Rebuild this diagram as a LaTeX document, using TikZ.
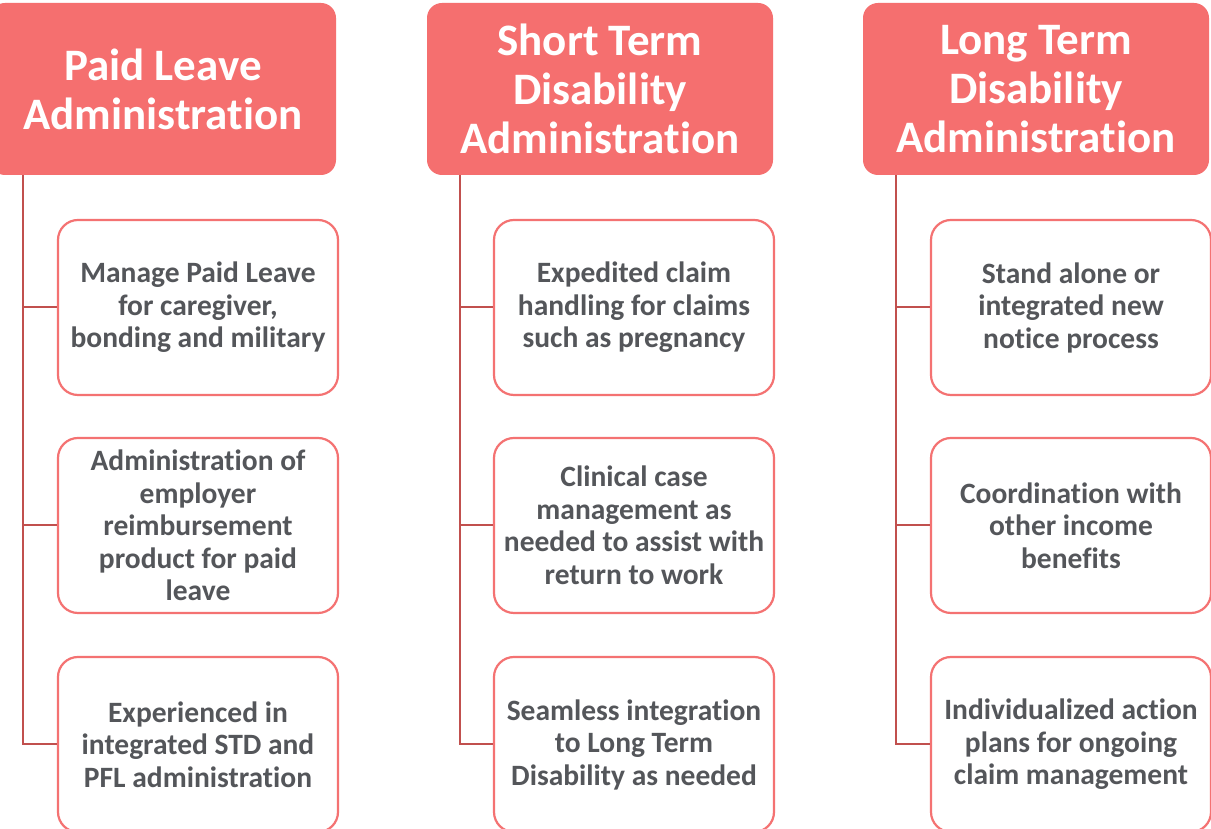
\documentclass[tikz,border=0pt]{standalone}
\usepackage{fontspec}
\setmainfont[Ligatures=CommonOff]{Carlito}
\usetikzlibrary{positioning}
\definecolor{headColor}{RGB}{245,111,111}
\definecolor{boxColor}{RGB}{244,114,114}
\definecolor{lineColor}{RGB}{193,80,78}
\definecolor{textColor}{RGB}{84,86,90}
\begin{document}
\begin{tikzpicture}[x=1pt,y=1pt,
  headbox/.style={fill=headColor,rounded corners=15pt,minimum width=346pt,minimum height=172pt,
    inner sep=0pt,align=center,text=white,font=\fontsize{45}{49}\selectfont\bfseries},
  itembox/.style={draw=boxColor,line width=2.2pt,fill=white,rounded corners=20pt,minimum width=280pt,
    minimum height=175pt,inner sep=0pt,align=center,text=textColor,font=\fontsize{29.5}{32.5}\selectfont\bfseries},
  branch/.style={draw=lineColor,line width=2pt}]
\path[use as bounding box,fill=white] (0,0) rectangle (1211,829);
\begin{scope}
\path[clip] (0,0) rectangle (1211,829);

% headers
\node[headbox] (h1) at (163,740) {Paid Leave\\Administration};
\node[headbox] (h2) at (600,740) {Short Term\\Disability\\Administration};
\node[headbox] (h3) at (1036,740) {Long Term\\Disability\\Administration};

% paid leave
\node[itembox] (p1) at (198,521.5) {Manage Paid Leave\\for caregiver,\\bonding and military};
\node[itembox] (p2) at (198,303.5) {Administration of\\employer\\reimbursement\\product for paid\\leave};
\node[itembox] (p3) at (198,84.5) {Experienced in\\integrated STD and\\PFL administration};

% short term
\node[itembox] (s1) at (634,521.5) {Expedited claim\\handling for claims\\such as pregnancy};
\node[itembox] (s2) at (634,303.5) {Clinical case\\management as\\needed to assist with\\return to work};
\node[itembox] (s3) at (634,84.5) {Seamless integration\\to Long Term\\Disability as needed};

% long term
\node[itembox] (l1) at (1071,521.5) {Stand alone or\\integrated new\\notice process};
\node[itembox] (l2) at (1071,303.5) {Coordination with\\other income\\benefits};
\node[itembox] (l3) at (1071,84.5) {Individualized action\\plans for ongoing\\claim management};

% connectors
\foreach \h/\a/\b/\c in {h1/p1/p2/p3,h2/s1/s2/s3,h3/l1/l2/l3}{
  \draw[branch] ([xshift=33pt]\h.south west) |- (\c.west);
  \draw[branch] ([xshift=33pt]\h.south west) |- (\b.west);
  \draw[branch] ([xshift=33pt]\h.south west) |- (\a.west);
}
\end{scope}
\end{tikzpicture}
\end{document}
